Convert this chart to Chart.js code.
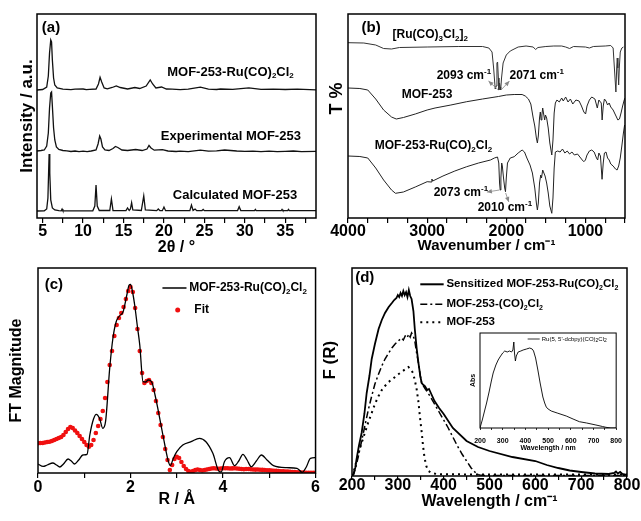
<!DOCTYPE html>
<html><head><meta charset="utf-8">
<script src="https://cdn.jsdelivr.net/npm/chart.js@4.4.1/dist/chart.umd.min.js"></script>
<style>
html,body{margin:0;padding:0;background:#fff;}
body{width:641px;height:521px;position:relative;overflow:hidden;}
canvas{position:absolute;}
</style></head><body>
<canvas id="ca" width="322" height="260" style="left:0;top:0"></canvas>
<canvas id="cb" width="319" height="260" style="left:322px;top:0"></canvas>
<canvas id="cc" width="322" height="261" style="left:0;top:260px"></canvas>
<canvas id="cd" width="319" height="261" style="left:322px;top:260px"></canvas>
<canvas id="ci" width="190" height="140" style="left:440px;top:320px"></canvas>
<script>
// ---------- (a) PXRD, [2theta, offset intensity] ----------
const xrdCalculated = [[4.3,7],[5.2,7.2],[5.5,9],[5.65,20],[5.75,50],[5.8,64],[5.88,45],[6.0,18],[6.2,10],[6.5,8],[7.0,7.3],[7.3,7.2],[7.4,9],[7.5,7.2],[11.2,7.2],[11.45,12],[11.6,33],[11.75,12],[12.0,7.5],[13.3,7.5],[13.5,19],[13.7,7.5],[15.3,7.3],[15.5,10],[15.7,7.5],[15.85,9],[16.0,15.3],[16.15,8],[17.2,7.5],[17.5,22],[17.7,8],[19.1,7.3],[19.3,9],[19.5,7.3],[19.8,7.3],[20.0,11],[20.2,7.3],[23.2,7.4],[23.4,13],[23.6,7.6],[23.85,9],[24.05,7.4],[24.7,7.4],[24.85,8.5],[25,7.3],[29.1,7.4],[29.3,11.3],[29.5,7.4],[31.2,7.3],[31.3,8.5],[31.4,7.3],[34.5,7.3],[34.6,8.5],[34.7,7.3],[35.3,7.3],[35.4,8.5],[35.5,7.3],[38.8,7.3]];
const xrdExperimental = [[4.3,67],[4.8,67.5],[5.2,68],[5.5,72],[5.7,85],[5.85,110],[6.0,125],[6.1,126],[6.2,112],[6.35,90],[6.5,78],[6.7,71],[7,68.5],[7.5,67.5],[8,67.2],[8.5,66.5],[9,67],[9.5,66.4],[10,66.8],[10.5,66.3],[11,67],[11.6,68],[11.85,74],[12.05,82],[12.2,79],[12.4,71],[12.7,68],[13.2,67.5],[13.7,69.5],[14.0,71.5],[14.3,70.5],[14.8,68],[15.5,67.5],[16.5,68.5],[17.3,67.5],[17.9,69],[18.15,72.5],[18.4,70],[18.8,67.8],[19.8,68.3],[20.5,67],[21.5,66.5],[22,66.9],[23,66.4],[24.5,67.8],[25.5,66.8],[26.5,67.2],[27.5,68],[29,67],[30,66.6],[31,66.9],[32,66.4],[33,66.8],[34,66.3],[35,66.6],[36,67],[37,66.4],[38.8,66.6]];
const xrdRuCO = [[4.3,128],[5,128.5],[5.5,131],[5.7,142],[5.85,165],[6.0,178],[6.1,176],[6.2,158],[6.35,140],[6.5,133],[6.8,130],[7.5,128.8],[8.5,128.3],[9,128.8],[10,129],[10.4,128.3],[10.8,128.6],[11.6,129],[11.9,134],[12.1,140.7],[12.3,136],[12.6,130],[13,129.2],[13.6,130.5],[14.1,132],[14.6,130.5],[15.5,129],[16.4,130.5],[17,129.5],[17.8,132],[18.3,138],[18.6,134],[19,130],[19.7,131],[20.3,129],[21,128.8],[22,128.4],[23,128.9],[24.5,130.8],[25.5,128.8],[26.5,128.5],[27,129],[28.5,128.6],[30.5,130.2],[32,128.6],[33.5,128.9],[35,128.5],[36.5,128.8],[38.8,128.2]];

// ---------- (b) FTIR, [wavenumber, offset transmittance] ----------
const irRuDimer = [[4000,175.3],[3800,175],[3650,173],[3550,169.5],[3450,169],[3350,170.5],[3000,171],[2600,171.5],[2300,171.5],[2220,170],[2180,166],[2160,150],[2140,129],[2128,132],[2118,155],[2110,156],[2100,140],[2093,128],[2085,135],[2078,131],[2071,128],[2060,140],[2040,155],[2000,163],[1950,167],[1850,171],[1750,172],[1660,171],[1630,168.5],[1600,170.5],[1500,171.5],[1400,172],[1300,172],[1250,171],[1200,169.5],[1150,171.5],[1000,171],[950,170],[900,171.5],[750,172],[680,172.5],[650,170],[630,145],[615,126],[605,150],[598,160],[590,150],[580,133],[572,150],[560,166],[540,170],[520,171]];
const irMOF253 = [[4000,130],[3850,129.5],[3750,128],[3650,119],[3550,108],[3450,101],[3390,99],[3300,100.5],[3150,104],[3000,108],[2900,110],[2700,113],[2500,116.3],[2300,119],[2100,121.5],[2000,123],[1900,123.5],[1800,123.5],[1760,122],[1720,119],[1690,114],[1660,100],[1640,92],[1620,80],[1607,75],[1595,82],[1580,100],[1570,106],[1560,98],[1550,103],[1540,110],[1530,105],[1515,98],[1505,103],[1490,100],[1470,90],[1450,75],[1425,63],[1410,78],[1395,105],[1380,115],[1360,118],[1330,116],[1300,120],[1280,117],[1250,121],[1220,116],[1190,119],[1160,114],[1120,118],[1080,117],[1050,112],[1020,106],[998,104],[980,112],[950,118],[920,121],[880,119],[850,110],[830,118],[800,115],[789,98],[775,112],[760,119],[740,117],[720,113],[700,115],[680,111],[650,108],[620,103],[590,98],[570,99],[550,105],[530,112],[510,118],[500,120]];
const irMOFRu = [[4000,62],[3850,61.5],[3750,60],[3650,50],[3550,38],[3450,28],[3400,24.7],[3300,26],[3150,31],[3000,36.3],[2950,36],[2940,39],[2930,37],[2800,42],[2650,47],[2500,51.3],[2350,55],[2200,58],[2150,60],[2111,61],[2095,55],[2085,35],[2077,28],[2068,40],[2058,55],[2050,52],[2035,40],[2020,30],[2010,26.3],[2000,40],[1985,55],[1950,60],[1900,61.3],[1850,65],[1800,68],[1770,66],[1740,60],[1700,53],[1670,45],[1640,30],[1620,15],[1607,8],[1595,15],[1580,35],[1565,43],[1555,40],[1540,48],[1525,45],[1510,42],[1490,35],[1470,25],[1450,12],[1425,4.7],[1410,20],[1395,50],[1380,66],[1350,67],[1320,66],[1290,69],[1260,65],[1230,67],[1200,64],[1170,66],[1140,63],[1100,64],[1060,60],[1040,58],[1020,56.3],[1000,58],[980,63],[950,67],[920,68],[890,66],[860,60],[845,58],[830,65],[810,62],[790,38.7],[775,55],[760,65],[740,66],[720,60],[700,58],[680,54],[650,52],[620,49],[600,48],[580,52],[560,60],[540,72],[520,85],[505,93]];

// ---------- (c) EXAFS FT magnitude ----------
const exafsData = [[0,9],[0.11,6.6],[0.2,8],[0.32,10],[0.4,8],[0.47,6],[0.55,9],[0.65,14],[0.72,12],[0.79,9],[0.88,13],[0.97,18],[1.06,18.7],[1.12,38],[1.2,54],[1.26,58.7],[1.33,54.7],[1.4,44.7],[1.46,51.3],[1.55,104.7],[1.62,135],[1.69,151.3],[1.76,157],[1.84,161.3],[1.92,178],[1.97,188],[2.0,188.7],[2.04,182],[2.09,168],[2.15,146],[2.2,128],[2.27,91.3],[2.33,91],[2.38,93],[2.43,92.5],[2.47,89.7],[2.53,78],[2.59,64.7],[2.7,38],[2.81,13],[2.86,7.3],[2.92,14],[3.0,21.3],[3.13,28],[3.31,31.3],[3.49,34.7],[3.63,31.3],[3.78,19.7],[3.92,1.3],[3.96,1],[4.03,11.3],[4.14,15.3],[4.25,7.3],[4.34,12],[4.43,18.7],[4.52,13],[4.61,6.3],[4.72,12],[4.83,18],[4.95,13],[5.09,7.3],[5.38,5.3],[5.6,4.7],[5.71,0.7],[5.8,6],[5.89,14.7],[6.0,15.3]];
const exafsFitR = [0,0.05,0.1,0.15,0.2,0.25,0.3,0.35,0.4,0.45,0.5,0.55,0.6,0.65,0.7,0.75,0.8,0.85,0.9,0.95,1,1.05,1.1,1.15,1.2,1.25,1.3,1.35,1.4,1.45,1.5,1.55,1.6,1.65,1.7,1.75,1.8,1.85,1.9,1.95,2,2.05,2.1,2.15,2.2,2.25,2.3,2.35,2.4,2.45,2.5,2.55,2.6,2.65,2.7,2.75,2.8,2.85,2.9,2.95,3,3.05,3.1,3.15,3.2,3.25,3.3,3.35,3.4,3.45,3.5,3.55,3.6,3.65,3.7,3.75,3.8,3.85,3.9,3.95,4,4.05,4.1,4.15,4.2,4.25,4.3,4.35,4.4,4.45,4.5,4.55,4.6,4.65,4.7,4.75,4.8,4.85,4.9,4.95,5,5.05,5.1,5.15,5.2,5.25,5.3,5.35,5.4,5.45,5.5,5.55,5.6,5.65,5.7,5.75,5.8,5.85,5.9,5.95,6];
const exafsFitMag = [29.7,30,30,30.5,31,31.3,32,33,34,35,36,38,41,44,46,45,42.5,40,37,34,31,28,26.3,28,33,40,47,54,62,75,91,108,122,137,148,155,160,166,174,182,186,181,165,144,122,100,90,92,93,90,83,72,60,48,36,24,13,3,8,14,16.3,15,11,7,4,2,1.3,2,3,3.5,3,2.5,3,3.5,4,4.5,4.7,4.5,4.3,4.5,4.7,4.8,4.7,4.5,4.6,4.7,4.5,4.2,4,3.8,4,4,3.7,3.5,3.4,3.5,3.3,3.1,3,2.8,2.6,2.5,2.3,2.2,2,1.8,1.7,1.5,1.4,1.2,1,0.9,0.7,0.5,0.4,0.4,0.3,0.3,0.2,0.2,0.2];

// ---------- (d) diffuse reflectance F(R), [wavelength, value] ----------
const drsSensitized = [[200,0],[203,2],[207,8],[210,17],[215,30],[221,43],[227,62],[232,83],[238,100],[243,117],[250,132],[258,147],[265,156],[272,163],[280,169],[287,173],[292,176],[297,178],[300,181],[303,179],[306,183],[309,180],[312,185],[315,181],[318,184],[321,179],[324,186],[327,180],[330,177],[334,165],[337,147],[341,128],[345,113],[349,100],[352,93],[356,91],[359,90],[364,86],[368,87],[374,81],[380,75],[390,68],[400,62],[420,48],[450,35],[475,29],[500,25],[550,19],[600,15],[625,11],[650,8],[675,5.5],[700,4],[730,2.5],[760,2],[772,3],[776,4.5],[780,2.5],[785,4],[790,2],[800,1]];
const drsCOCl = [[200,0],[204,2],[209,10],[214,20],[221,35],[228,50],[235,65],[243,80],[250,92],[258,102],[265,110],[272,117],[280,123],[287,128],[294,132],[301,135],[308,138],[312,136],[316,140],[320,138],[324,142],[327,139],[330,143],[333,141],[337,135],[341,123],[345,113],[349,100],[352,93],[356,90],[360,87],[370,80],[380,72],[390,64],[400,56],[410,48],[420,39],[430,30],[440,22],[450,15],[460,8],[470,3],[478,1],[490,0.5],[600,0.5],[700,0.5],[800,0.5]];
const drsMOF253 = [[200,0],[203,3],[208,12],[214,23],[221,33],[228,43],[235,53],[243,63],[250,72],[258,80],[265,86],[272,90],[280,94],[287,96.7],[294,99],[301,101.7],[308,104],[316,106.7],[323,109],[328,107],[333,103],[337,96],[341,87],[345,74],[348,60],[352,44],[355,30],[358,19],[362,10],[367,5],[373,3],[385,2],[400,1.7],[500,1.5],[600,1.5],[700,1.5],[800,1.5]];
const insetAbs = [[200,0],[210,8],[220,17],[229,25],[240,36],[250,47],[258,55],[270,63],[280,68],[288,71],[300,75],[309,77],[320,76],[330,77],[339,76],[345,78],[349,86],[352,75],[356,67],[360,72],[368,76],[380,77],[390,78],[405,79],[419,80],[430,79],[436,77],[445,70],[455,58],[465,45],[477,31],[485,25],[492,21],[500,19],[514,17],[540,15],[580,12],[610,9],[638,6.3],[670,5],[711,3],[740,1.5],[755,0.7],[777,0],[800,0]];

// ---------- tick label sets ----------
const ticksA = [5,10,15,20,25,30,35];
const ticksB = [4000,3000,2000,1000];
const ticksC = [0,2,4,6];
const ticksD = [200,300,400,500,600,700,800];

// ================= rendering =================
const FONT = '"Liberation Sans", Arial, Helvetica, sans-serif';
Chart.defaults.font.family = FONT;
Chart.defaults.color = '#000';
const pts = a => a.map(p => ({x:p[0], y:p[1]}));

function parseRich(s){
  const segs=[]; let i=0, buf='';
  while(i<s.length){
    if((s[i]==='_'||s[i]==='^') && s[i+1]==='{'){
      if(buf){segs.push({t:buf,m:0});buf='';}
      const j=s.indexOf('}',i);
      segs.push({t:s.slice(i+2,j), m:s[i]==='_'?1:2});
      i=j+1;
    } else { buf+=s[i]; i++; }
  }
  if(buf) segs.push({t:buf,m:0});
  return segs;
}
function drawRich(ctx, s, x, y, o){
  const size=o.size||12, weight=o.weight||'bold', align=o.align||'left';
  const segs=parseRich(s);
  const fnt = m => weight+' '+(m? Math.max(5,Math.round(size*0.65)) : size)+'px '+FONT;
  let w=0;
  segs.forEach(g=>{ctx.font=fnt(g.m); g.w=ctx.measureText(g.t).width; w+=g.w;});
  let cx = align==='center'? x-w/2 : align==='right'? x-w : x;
  ctx.fillStyle=o.color||'#000'; ctx.textBaseline='middle'; ctx.textAlign='left';
  segs.forEach(g=>{ctx.font=fnt(g.m); const dy = g.m===1? size*0.32 : g.m===2? -size*0.38 : 0; ctx.fillText(g.t, cx, y+dy); cx+=g.w;});
}
function arrow(ctx,x1,y1,x2,y2,col){
  ctx.strokeStyle=col; ctx.fillStyle=col; ctx.lineWidth=0.8; ctx.setLineDash([]);
  ctx.beginPath(); ctx.moveTo(x1,y1); ctx.lineTo(x2,y2); ctx.stroke();
  const a=Math.atan2(y2-y1,x2-x1), L=5, W=2.2;
  ctx.beginPath(); ctx.moveTo(x2,y2);
  ctx.lineTo(x2-L*Math.cos(a)+W*Math.sin(a), y2-L*Math.sin(a)-W*Math.cos(a));
  ctx.lineTo(x2-L*Math.cos(a)-W*Math.sin(a), y2-L*Math.sin(a)+W*Math.cos(a));
  ctx.closePath(); ctx.fill();
}
function notes(items){
  return {id:'notes', afterDraw(chart){
    const ctx=chart.ctx, xs=chart.scales.x, ys=chart.scales.y;
    const X=v=>xs.getPixelForValue(v), Y=v=>ys.getPixelForValue(v);
    ctx.save();
    items.forEach(it=>{
      if(it.type==='text') drawRich(ctx,it.text,X(it.x),Y(it.y),it);
      else if(it.type==='line'){ ctx.beginPath(); ctx.setLineDash(it.dash||[]); ctx.lineWidth=it.width||1.5; ctx.strokeStyle=it.color||'#000'; ctx.moveTo(X(it.x1),Y(it.y)); ctx.lineTo(X(it.x2),Y(it.y)); ctx.stroke(); ctx.setLineDash([]); }
      else if(it.type==='dot'){ ctx.beginPath(); ctx.fillStyle=it.color; ctx.arc(X(it.x),Y(it.y),it.r,0,Math.PI*2); ctx.fill(); }
      else if(it.type==='arrow') arrow(ctx,X(it.x1),Y(it.y1),X(it.x2),Y(it.y2),it.color||'#888');
    });
    ctx.restore();
  }};
}
const frame = {id:'frame', afterDatasetsDraw(chart){
  const {left,top,right,bottom}=chart.chartArea, c=chart.ctx;
  c.save(); c.lineWidth=chart.options.frameWidth||1.5; c.strokeStyle='#000'; c.setLineDash([]);
  c.strokeRect(left,top,right-left,bottom-top); c.restore();
}};
function xScale(o){ return {
  type:'linear', position:'bottom', min:o.min, max:o.max, reverse:!!o.reverse,
  afterFit: s=>{ s.height=o.h; },
  border:{display:false},
  grid:{display:true, drawOnChartArea:false, drawTicks:true, tickLength:o.tl||5, color:'#000', lineWidth:o.tw||1.2},
  ticks:{stepSize:o.step, autoSkip:false, maxRotation:0, minRotation:0, includeBounds:false, maxTicksLimit:500, padding:o.pad, color:'#000',
    font:{size:o.fs||16, weight:'bold', lineHeight:1},
    callback: v => (o.labels.some(l=>Math.abs(l-v)<1e-6) ? String(v) : '')},
  title:{display:true, text:o.title, color:'#000', font:{size:o.tfs||16, weight:o.tw2||'bold', lineHeight:1}, padding:{top:0,bottom:o.tpad}}
};}
function yScale(o){ return {
  type:'linear', position:'left', min:0, max:o.max,
  afterFit: s=>{ s.width=o.w; },
  ticks:{display:false}, grid:{display:false}, border:{display:false},
  title:{display:true, text:o.title, color:'#000', font:{size:o.fs||16, weight:'bold', lineHeight:1}, padding:{top:o.tpad,bottom:0}}
};}
function line(arr, o){ return Object.assign({data:pts(arr), showLine:true, borderColor:'#000', borderWidth:1.3, pointRadius:0, tension:0, fill:false}, o||{}); }
function make(id, datasets, xo, yo, pad, items, extra){
  return new Chart(document.getElementById(id), {
    type:'scatter',
    data:{datasets},
    options:Object.assign({responsive:false, animation:false, devicePixelRatio:1,
      layout:{padding:pad},
      plugins:{legend:{display:false}, tooltip:{enabled:false}},
      scales:{x:xScale(xo), y:yScale(yo)}}, extra||{}),
    plugins:[frame, notes(items)]
  });
}

// (a)
make('ca', [
  line(xrdRuCO,{borderColor:'#111'}), line(xrdExperimental,{borderColor:'#111'}), line(xrdCalculated,{borderColor:'#111'})
], {min:4.3,max:38.8,step:2.5,labels:ticksA,h:42,pad:0.5,tpad:4,title:'2θ / °'},
   {max:204,w:37,tpad:19,title:'Intensity / a.u.',fs:17},
   {left:0,top:14,right:6,bottom:0},
   [ {type:'text',text:'(a)',x:4.9,y:190,size:15},
     {type:'text',text:'MOF-253-Ru(CO)_{2}Cl_{2}',x:20.4,y:146,size:13},
     {type:'text',text:'Experimental MOF-253',x:19.6,y:82,size:13},
     {type:'text',text:'Calculated MOF-253',x:21.1,y:23,size:13} ]);

// (b)
make('cb', [
  line(irRuDimer,{borderColor:'#333',borderWidth:1}), line(irMOF253,{borderColor:'#222',borderWidth:1}), line(irMOFRu,{borderColor:'#222',borderWidth:1})
], {min:500,max:4000,reverse:true,step:250,labels:ticksB,h:42,pad:0.5,tpad:6.5,tfs:15,title:'Wavenumber / cm⁻¹'},
   {max:204,w:26,tpad:6,title:'       T %',fs:18},
   {left:0,top:14,right:16,bottom:0},
   [ {type:'text',text:'(b)',x:3828,y:190,size:15},
     {type:'text',text:'[Ru(CO)_{3}Cl_{2}]_{2}',x:3437,y:183,size:12},
     {type:'text',text:'2093 cm^{-1}',x:2880,y:142,size:12},
     {type:'text',text:'2071 cm^{-1}',x:1960,y:142,size:12},
     {type:'text',text:'MOF-253',x:3322,y:123,size:12},
     {type:'text',text:'MOF-253-Ru(CO)_{2}Cl_{2}',x:3663,y:72,size:12},
     {type:'text',text:'2073 cm^{-1}',x:2918,y:25,size:12},
     {type:'text',text:'2010 cm^{-1}',x:2362,y:10,size:12},
     {type:'arrow',x1:2100,y1:128,x2:2225,y2:137},
     {type:'arrow',x1:2066,y1:128,x2:1960,y2:137},
     {type:'arrow',x1:2085,y1:28,x2:2245,y2:26},
     {type:'arrow',x1:2008,y1:25,x2:1968,y2:16} ]);

// (c)
make('cc', [
  line(exafsData,{borderWidth:1.3, cubicInterpolationMode:'monotone'}),
  {data:exafsFitR.map((r,i)=>({x:r,y:exafsFitMag[i]})), showLine:false, pointRadius:2.3, pointBackgroundColor:'#f01010', pointBorderWidth:0, pointStyle:'circle'}
], {min:0,max:6,step:1,labels:ticksC,h:48,pad:2,tpad:13,title:'R / Å'},
   {max:205,w:38,tpad:9,title:'FT Magnitude'},
   {left:0,top:8,right:6,bottom:0},
   [ {type:'text',text:'(c)',x:0.145,y:188,size:15},
     {type:'line',x1:2.69,x2:3.21,y:185,width:1.5},
     {type:'text',text:'MOF-253-Ru(CO)_{2}Cl_{2}',x:3.27,y:185,size:12},
     {type:'dot',x:3.02,y:163,r:2.5,color:'#f01010'},
     {type:'text',text:'Fit',x:3.38,y:163,size:12} ]);

// (d)
make('cd', [
  line(drsSensitized,{borderWidth:1.8}),
  line(drsCOCl,{borderWidth:1.5,borderDash:[7,3,2,3]}),
  line(drsMOF253,{borderWidth:2,borderDash:[2,4]})
], {min:200,max:800,step:50,labels:ticksD,h:45,tl:4,pad:-2.5,tpad:11.5,title:'Wavelength / cm⁻¹'},
   {max:208,w:30,tpad:0,title:'     F (R)',fs:17},
   {left:0,top:8,right:14,bottom:0},
   [ {type:'text',text:'(d)',x:207,y:197.7,size:15},
     {type:'line',x1:349,x2:400,y:191.7,width:2},
     {type:'text',text:'Sensitized MOF-253-Ru(CO)_{2}Cl_{2}',x:406,y:191.7,size:11.5},
     {type:'line',x1:349,x2:400,y:171.7,width:1.5,dash:[7,3,2,3]},
     {type:'text',text:'MOF-253-(CO)_{2}Cl_{2}',x:406,y:171.7,size:11.5},
     {type:'line',x1:349,x2:400,y:153.7,width:2,dash:[2,4]},
     {type:'text',text:'MOF-253',x:406,y:153.7,size:11.5} ]);

// inset
make('ci', [ line(insetAbs,{borderWidth:0.9}) ],
   {min:200,max:800,step:50,labels:ticksD,h:32,tl:2,tw:0.8,pad:8,fs:7,tfs:7,tpad:8.8,title:'Wavelength / nm'},
   {max:95,w:40,tpad:29.8,title:'Abs',fs:7},
   {left:0,top:13,right:13,bottom:0},
   [ {type:'line',x1:410,x2:463,y:89,width:0.8},
     {type:'text',text:"Ru(5, 5'-dcbpy)(CO)_{2}Cl_{2}",x:472,y:89,size:6,weight:'normal'} ],
   {frameWidth:1});
</script>
</body></html>
